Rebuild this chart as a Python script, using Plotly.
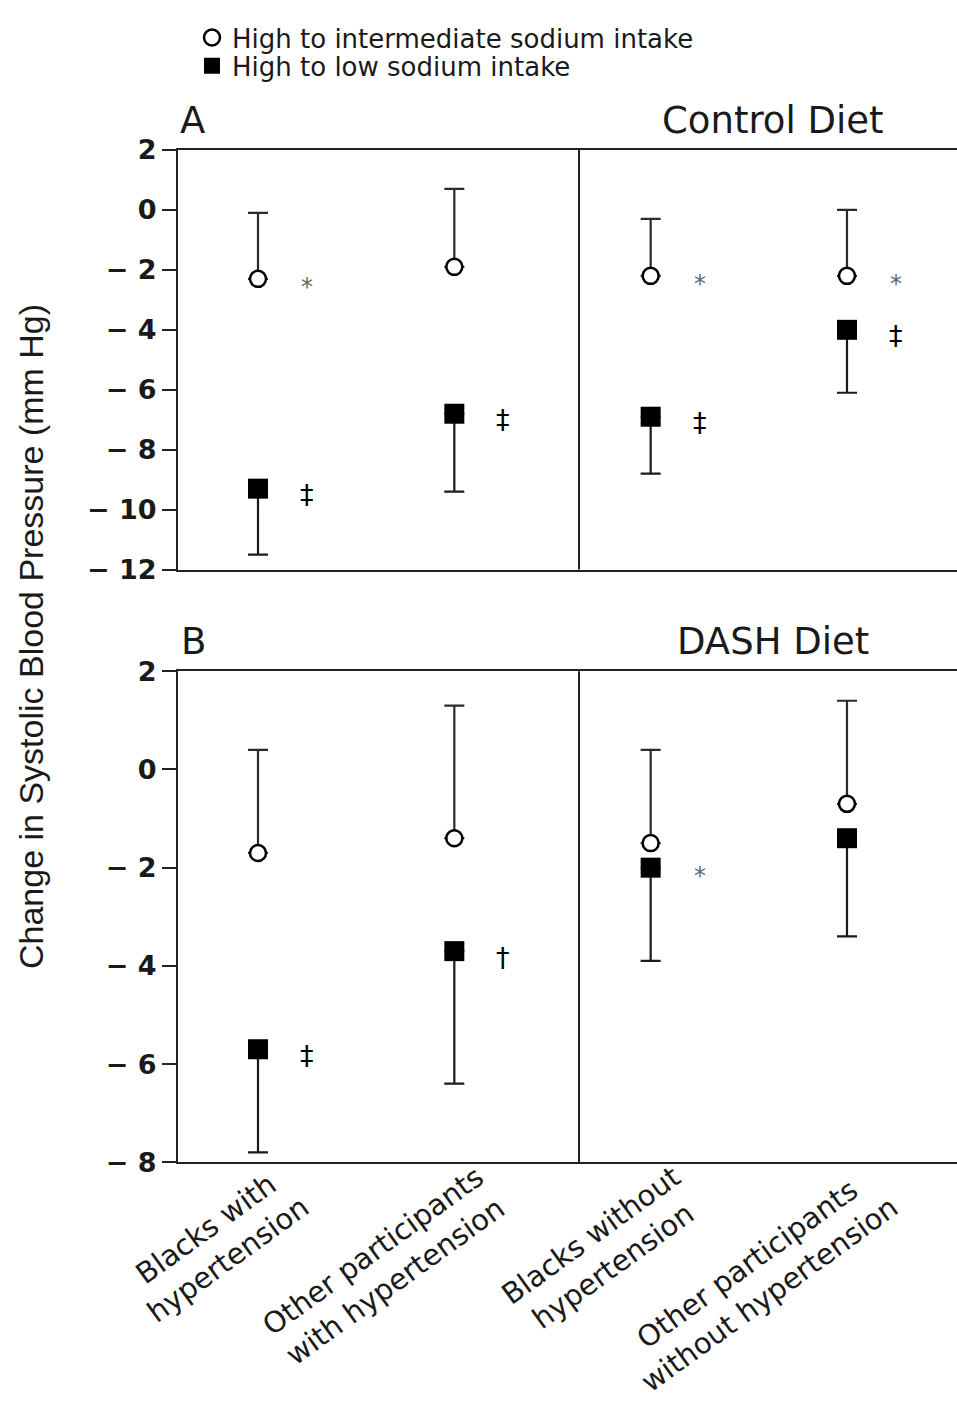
import plotly.graph_objects as go

# ---------------- data ----------------
categories = ["Blacks with<br>hypertension",
              "Other participants<br>with hypertension",
              "Blacks without<br>hypertension",
              "Other participants<br>without hypertension"]
cat_pos = [0, 1, 2, 3]

series_names = ["High to intermediate sodium intake", "High to low sodium intake"]

# Panel A: Control diet
ctrl_inter_mean = [-2.3, -1.9, -2.2, -2.2]
ctrl_inter_upper = [-0.1, 0.7, -0.3, 0.0]
ctrl_low_mean = [-9.3, -6.8, -6.9, -4.0]
ctrl_low_lower = [-11.5, -9.4, -8.8, -6.1]
ctrl_inter_sig = ["*", "", "*", "*"]
ctrl_low_sig = ["‡", "‡", "‡", "‡"]

# Panel B: DASH diet
dash_inter_mean = [-1.7, -1.4, -1.5, -0.7]
dash_inter_upper = [0.4, 1.3, 0.4, 1.4]
dash_low_mean = [-5.7, -3.7, -2.0, -1.4]
dash_low_lower = [-7.8, -6.4, -3.9, -3.4]
dash_inter_sig = ["", "", "", ""]
dash_low_sig = ["‡", "†", "*", ""]

ctrl_ticks = [2, 0, -2, -4, -6, -8, -10, -12]
dash_ticks = [2, 0, -2, -4, -6, -8]


def tick_label(v):
    return str(v) if v >= 0 else "\u2212 " + str(abs(v))


# ---------------- styles ----------------
INK = "#1a1a1a"
FONT = "DejaVu Sans"
W, H = 957, 1411

fig = go.Figure()

panels = [
    dict(xa="x", ya="y", im=ctrl_inter_mean, iu=ctrl_inter_upper, lm=ctrl_low_mean,
         ll=ctrl_low_lower, isig=ctrl_inter_sig, lsig=ctrl_low_sig, legend=True),
    dict(xa="x2", ya="y2", im=dash_inter_mean, iu=dash_inter_upper, lm=dash_low_mean,
         ll=dash_low_lower, isig=dash_inter_sig, lsig=dash_low_sig, legend=False),
]

annotations = []
for p in panels:
    fig.add_trace(go.Scatter(
        x=cat_pos, y=p["lm"], mode="markers", name=series_names[1],
        xaxis=p["xa"], yaxis=p["ya"], showlegend=p["legend"], legend="legend2",
        marker=dict(symbol="square", size=20, color="black"),
        error_y=dict(type="data", symmetric=False,
                     array=[0] * 4,
                     arrayminus=[m - l for m, l in zip(p["lm"], p["ll"])],
                     color="#1a1a1a", thickness=2.2, width=10),
    ))
    fig.add_trace(go.Scatter(
        x=cat_pos, y=p["im"], mode="markers", name=series_names[0],
        xaxis=p["xa"], yaxis=p["ya"], showlegend=p["legend"], legend="legend",
        marker=dict(symbol="circle", size=16, color="white",
                    line=dict(color="black", width=2.5)),
        error_y=dict(type="data", symmetric=False,
                     array=[u - m for u, m in zip(p["iu"], p["im"])],
                     arrayminus=[0] * 4,
                     color="#2a2a2a", thickness=2.2, width=10),
    ))
    for sigs, vals in ((p["isig"], p["im"]), (p["lsig"], p["lm"])):
        for xc, s, v in zip(cat_pos, sigs, vals):
            if not s:
                continue
            star = s == "*"
            annotations.append(dict(
                x=xc + 0.25, y=v, xref=p["xa"], yref=p["ya"], text=s, showarrow=False,
                xanchor="center", yanchor="middle",
                yshift=-8 if star else -6,
                font=dict(family=FONT, size=24 if star else 27,
                          color="#666" if star else "black"),
            ))

# rotated category labels under panel B
for xc, lab in zip(cat_pos, categories):
    annotations.append(dict(
        x=xc + 0.31, y=1 - 1166 / H, xref="x2", yref="paper", text=lab,
        showarrow=False, xanchor="right", yanchor="top", textangle=-36,
        align="center", font=dict(family=FONT, size=29, color=INK),
    ))

# panel titles
for txt, xp, yp, anchor in (("A", 178, 107, "left"), ("Control Diet", 773, 107, "center"),
                            ("B", 179, 640, "left"), ("DASH Diet", 773, 640, "center")):
    annotations.append(dict(
        x=xp / W, y=1 - yp / H, xref="paper", yref="paper", text=txt, showarrow=False,
        xanchor=anchor, yanchor="middle",
        font=dict(family=FONT, size=37, color=INK),
    ))

# y-axis title
annotations.append(dict(
    x=31 / W, y=1 - 635 / H, xref="paper", yref="paper",
    text="Change in Systolic Blood Pressure (mm Hg)", showarrow=False,
    textangle=-90, xanchor="center", yanchor="middle",
    font=dict(family="Liberation Sans", size=34, color=INK),
))

# divider line between hypertensive and non-hypertensive groups
shapes = []
for xa in ("x", "x2"):
    shapes.append(dict(type="line", xref=xa, yref=xa.replace("x", "y") + " domain",
                       x0=1.635, x1=1.635, y0=0, y1=1,
                       line=dict(color="#222", width=2)))

x0 = -(258 - 178) / 196.33
x1 = (957 - 258) / 196.33
xdom = [178 / W, 1.0]

common_x = dict(range=[x0, x1], domain=xdom, showgrid=False, zeroline=False,
                showticklabels=False, ticks="", showline=True, linecolor="#222",
                linewidth=2, mirror=True)
common_y = dict(showgrid=False, zeroline=False, showline=True, linecolor="#222",
                linewidth=2, ticks="outside", ticklen=14, tickwidth=2, tickcolor="#222",
                tickfont=dict(family=FONT, size=27, color=INK, weight="bold"),
                tickmode="array", ticklabelstandoff=0)

legend_common = dict(xanchor="left", yanchor="middle", bgcolor="rgba(0,0,0,0)",
                     font=dict(family=FONT, size=26, color=INK))

fig.update_layout(
    width=W, height=H,
    margin=dict(l=0, r=0, t=0, b=0),
    paper_bgcolor="white", plot_bgcolor="white",
    xaxis=dict(**common_x, anchor="y"),
    yaxis=dict(**common_y, range=[-12, 2], domain=[1 - 566 / H, 1 - 137 / H],
               tickvals=ctrl_ticks, ticktext=[tick_label(v) for v in ctrl_ticks], anchor="x"),
    xaxis2=dict(**common_x, anchor="y2"),
    yaxis2=dict(**common_y, range=[-8, 2], domain=[1 - 1172 / H, 1 - 670 / H],
                tickvals=dash_ticks, ticktext=[tick_label(v) for v in dash_ticks], anchor="x2"),
    legend=dict(x=192 / W, y=1 - 22 / H, **legend_common),
    legend2=dict(x=192 / W, y=1 - 51 / H, **legend_common),
    annotations=annotations,
    shapes=shapes,
)

fig.write_html("out.html", config={"displayModeBar": False},
               post_script="document.body.style.margin='0';document.body.style.overflow='hidden';")
